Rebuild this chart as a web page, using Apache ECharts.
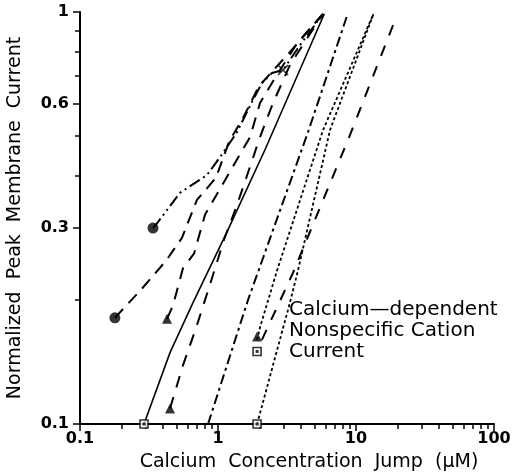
<!DOCTYPE html>
<html>
<head>
<meta charset="UTF-8">
<script src="https://cdn.jsdelivr.net/npm/echarts@6/dist/echarts.min.js"></script>
<title>Calcium concentration jump</title>
<style>
body {
	margin: 0;
	background: #fff;
}

#main {
	width: 515px;
	height: 476px;
}
</style>
</head>
<body>
	<div id="main"></div>
	<script>
		// tick values and labels
		var xTicks = [0.1, 0.2, 0.3, 0.4, 0.5, 0.6, 0.7, 0.8, 0.9, 1, 2, 3, 4, 5, 6, 7, 8, 9, 10, 20, 30, 40, 50, 60, 70, 80, 90, 100];
		var xLabels = [0.1, 1, 10, 100];
		var yTicks = [0.1, 0.2, 0.3, 0.4, 0.5, 0.6, 0.7, 0.8, 0.9, 1];
		var yLabels = [0.1, 0.3, 0.6, 1];

		// curves, [calcium jump uM, normalized current]
		var dashDotDot = [[0.338, 0.299], [0.367, 0.309], [0.53, 0.364], [0.832, 0.402], [0.92, 0.421], [1.087, 0.455], [1.373, 0.511], [1.518, 0.547], [1.793, 0.612], [2.08, 0.672], [2.46, 0.711], [2.96, 0.723], [3.93, 0.831], [5.77, 0.99]];
		var longDash1 = [[0.179, 0.181], [0.281, 0.213], [0.42, 0.249], [0.548, 0.283], [0.704, 0.35], [0.967, 0.396], [1.201, 0.484], [1.518, 0.553], [1.982, 0.661], [3.325, 0.8], [5.77, 0.99]];
		var longDash2 = [[0.427, 0.18], [0.472, 0.194], [0.558, 0.239], [0.67, 0.259], [0.805, 0.322], [1.181, 0.402], [1.706, 0.497], [2.015, 0.601], [2.59, 0.692], [3.8, 0.846], [5.77, 0.99]];
		var longDash3 = [[0.449, 0.109], [0.558, 0.139], [0.693, 0.171], [0.875, 0.218], [1.105, 0.28], [1.373, 0.34], [1.677, 0.414], [2.015, 0.497], [2.503, 0.601], [3.325, 0.744], [5.77, 0.99]];
		var solid = [[0.291, 0.1], [0.449, 0.149], [0.659, 0.197], [1.181, 0.296], [2.19, 0.463], [5.9, 0.99]];
		var dashDot = [[0.847, 0.1], [1.65, 0.2], [4.49, 0.511], [8.6, 0.978]];
		var dottedA = [[1.92, 0.16], [2.02, 0.172], [2.68, 0.236], [5.77, 0.517], [13.4, 0.99]];
		var dottedB = [[1.92, 0.1], [3.32, 0.197], [3.8, 0.236], [6.48, 0.517], [13.4, 0.99]];
		var dashRight = [[2.08, 0.16], [3.5, 0.233], [9.05, 0.503], [19.2, 0.956]];

		// markers
		var circles = [[0.338, 0.299], [0.179, 0.181]];
		var triangles = [[0.427, 0.18], [0.449, 0.109], [1.92, 0.163]];
		var squares = [[0.291, 0.1], [1.92, 0.1], [1.92, 0.15]];
		var crosses = [[2.96, 0.723]];

		var font = 'DejaVu Sans';

		function fmt(v) {
			return v < 1 ? v.toFixed(1) : String(Math.round(v));
		}

		function line(data, dash, width) {
			return {
				type : 'line',
				data : data,
				showSymbol : false,
				silent : true,
				lineStyle : {
					color : '#000',
					width : width || 2,
					type : dash
				}
			};
		}

		function marks(data, symbol, size, fill) {
			return {
				type : 'scatter',
				data : data,
				symbol : symbol,
				symbolSize : size,
				z : 5,
				itemStyle : {
					color : fill,
					borderColor : '#000',
					borderWidth : fill === '#000' ? 0 : 1.6
				}
			};
		}

		var axisBase = {
			type : 'log',
			logBase : 10,
			splitLine : { show : false },
			axisLine : { lineStyle : { color : '#000', width : 2 } }
		};

		var option = {
			animation : false,
			backgroundColor : '#fff',
			grid : {
				left : 80,
				right : 21,
				top : 12,
				bottom : 52,
				outerBoundsMode : 'none'
			},
			xAxis : [ Object.assign({}, axisBase, {
				position : 'bottom',
				min : 0.1,
				max : 100,
				name : 'Calcium  Concentration  Jump  (\u03BCM)',
				nameLocation : 'middle',
				nameGap : 29,
				nameTextStyle : {
					color : '#000',
					fontFamily : font,
					fontSize : 19,
					padding : [0, 0, 0, 44]
				},
				axisTick : {
					length : 5,
					lineStyle : { color : '#000', width : 1.5 },
					customValues : xTicks
				},
				axisLabel : { show : false }
			}), Object.assign({}, axisBase, {
				position : 'bottom',
				min : 0.1,
				max : 100,
				axisLine : { show : false },
				axisTick : {
					length : 7,
					lineStyle : { color : '#000', width : 1.5 },
					customValues : xLabels
				},
				axisLabel : {
					customValues : xLabels,
					formatter : fmt,
					color : '#000',
					fontFamily : font,
					fontWeight : 'bold',
					fontSize : 16,
					margin : 7
				}
			}) ],
			yAxis : [ Object.assign({}, axisBase, {
				position : 'left',
				min : 0.1,
				max : 1,
				name : 'Normalized  Peak  Membrane  Current',
				nameLocation : 'middle',
				nameGap : 55,
				nameTextStyle : {
					color : '#000',
					fontFamily : font,
					fontSize : 19
				},
				axisTick : {
					length : 5,
					lineStyle : { color : '#000', width : 1.5 },
					customValues : yTicks
				},
				axisLabel : { show : false }
			}), Object.assign({}, axisBase, {
				position : 'left',
				min : 0.1,
				max : 1,
				axisLine : { show : false },
				axisTick : {
					length : 7,
					lineStyle : { color : '#000', width : 1.5 },
					customValues : yLabels
				},
				axisLabel : {
					customValues : yLabels,
					formatter : fmt,
					color : '#000',
					fontFamily : font,
					fontWeight : 'bold',
					fontSize : 16,
					margin : 11
				}
			}) ],
			series : [
				line(dashDotDot, [12, 4, 2, 4, 2, 4]),
				line(longDash1, [12, 8]),
				line(longDash2, [12, 9]),
				line(longDash3, [12, 10]),
				line(solid, 'solid', 1.6),
				line(dashDot, [10, 4, 3, 4]),
				line(dottedA, [3, 2.5], 1.8),
				line(dottedB, [3, 2.5], 1.8),
				line(dashRight, [11, 11]),
				marks(circles, 'circle', 11, '#000'),
				marks(triangles, 'triangle', 10, '#000'),
				marks(squares, 'rect', 8, '#fff'),
				marks(squares, 'rect', 3, '#000'),
				marks(crosses, 'path://M0,0L10,10M10,0L0,10', 10, 'none')
			],
			graphic : [ {
				type : 'text',
				left : 289,
				top : 299,
				style : {
					text : 'Calcium\u2014dependent\nNonspecific Cation\nCurrent',
					fill : '#000',
					font : '20px "DejaVu Sans"',
					lineHeight : 21
				}
			} ]
		};

		var mychart = echarts.init(document.getElementById('main'));
		mychart.setOption(option);
	</script>
</body>
</html>
